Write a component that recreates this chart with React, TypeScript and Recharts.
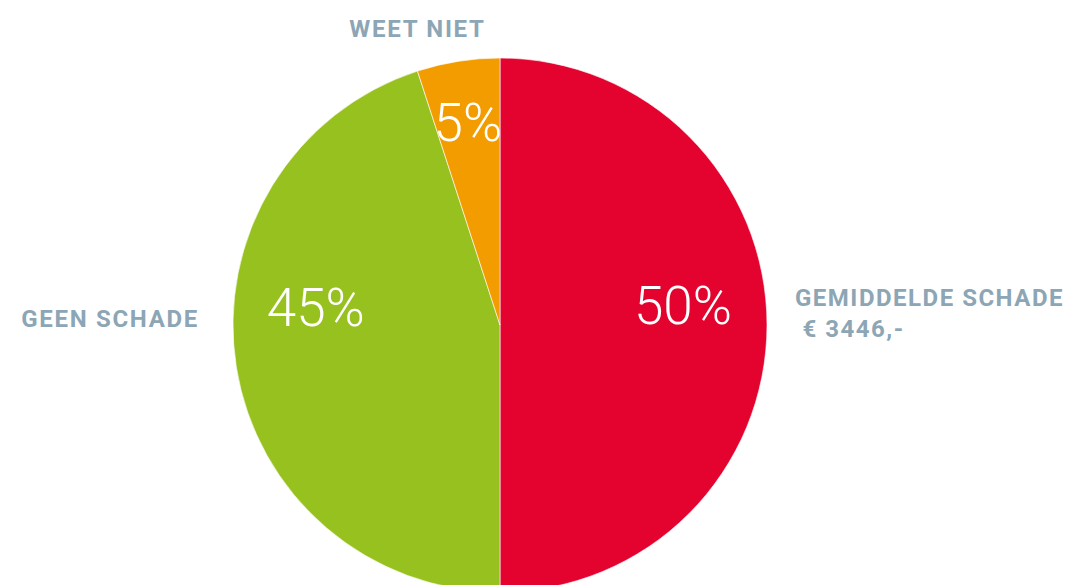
import React from 'react';
import { PieChart, Pie, Cell } from 'recharts';

const categories = ['GEMIDDELDE SCHADE', 'GEEN SCHADE', 'WEET NIET'];
const subLabels = [' € 3446,-', '', ''];
const values = [50, 45, 5];
const percentLabels = ['50%', '45%', '5%'];
const colors = ['#e4032e', '#97c11f', '#f39c00'];

const data = categories.map((name, i) => ({ name, value: values[i], sub: subLabels[i], pct: percentLabels[i] }));

const LABEL_COLOR = '#8ca6b5';
const RAD = Math.PI / 180;

const renderLabel = (props: any) => {
  const { cx, cy, midAngle, outerRadius, index } = props;
  const startAngle = props.startAngle !== undefined ? props.startAngle : midAngle + 9;
  const c = Math.cos(midAngle * RAD);
  const s = Math.sin(midAngle * RAD);
  const pctSize = 53;
  const catSize = 24;
  const entry = data[index];
  let px: number, py: number;
  let lx: number, ly: number, anchor: 'start' | 'end' | 'middle';
  let spacing = 1.7;
  if (c > 0.5) {
    px = cx + outerRadius * 0.685;
    py = cy - 1;
    lx = cx + outerRadius + 28;
    ly = cy - 19;
    anchor = 'start';
    spacing = 1.5;
  } else if (c < -0.5) {
    px = cx - outerRadius * 0.69;
    py = cy + 1;
    lx = cx - outerRadius - 34;
    ly = cy + 2;
    anchor = 'end';
  } else {
    const r = outerRadius * 0.77;
    px = cx + r * c;
    py = cy - r * s + pctSize * 0.36;
    lx = cx + outerRadius * Math.cos(startAngle * RAD);
    ly = cy - outerRadius - 21;
    anchor = 'middle';
  }
  return (
    <g>
      <text x={px} y={py} textAnchor="middle" fill="#ffffff" fontFamily="Roboto" fontWeight={300} fontSize={pctSize}>
        {entry.pct}
      </text>
      <text x={lx} y={ly} textAnchor={anchor} fill={LABEL_COLOR} fontFamily="Roboto" fontWeight={700} fontSize={catSize} letterSpacing={spacing}>
        {entry.name}
      </text>
      {entry.sub ? (
        <text x={lx} y={ly + 31} textAnchor={anchor} fill={LABEL_COLOR} fontFamily="Roboto" fontWeight={700} fontSize={catSize} letterSpacing={spacing} style={{ whiteSpace: 'pre' }}>
          {entry.sub}
        </text>
      ) : null}
    </g>
  );
};

export default function App() {
  return (
    <div style={{ width: 1064, height: 577, background: '#ffffff' }}>
      <PieChart width={1064} height={577} margin={{ top: 0, right: 0, bottom: 0, left: 0 }} style={{ overflow: 'visible' }}>
        <Pie
          data={data}
          dataKey="value"
          nameKey="name"
          cx={492}
          cy={317}
          outerRadius={267}
          startAngle={90}
          endAngle={-270}
          stroke="#ffffff"
          strokeWidth={0.6}
          label={renderLabel}
          labelLine={false}
          isAnimationActive={false}
        >
          {data.map((d, i) => (
            <Cell key={d.name} fill={colors[i]} />
          ))}
        </Pie>
      </PieChart>
    </div>
  );
}
